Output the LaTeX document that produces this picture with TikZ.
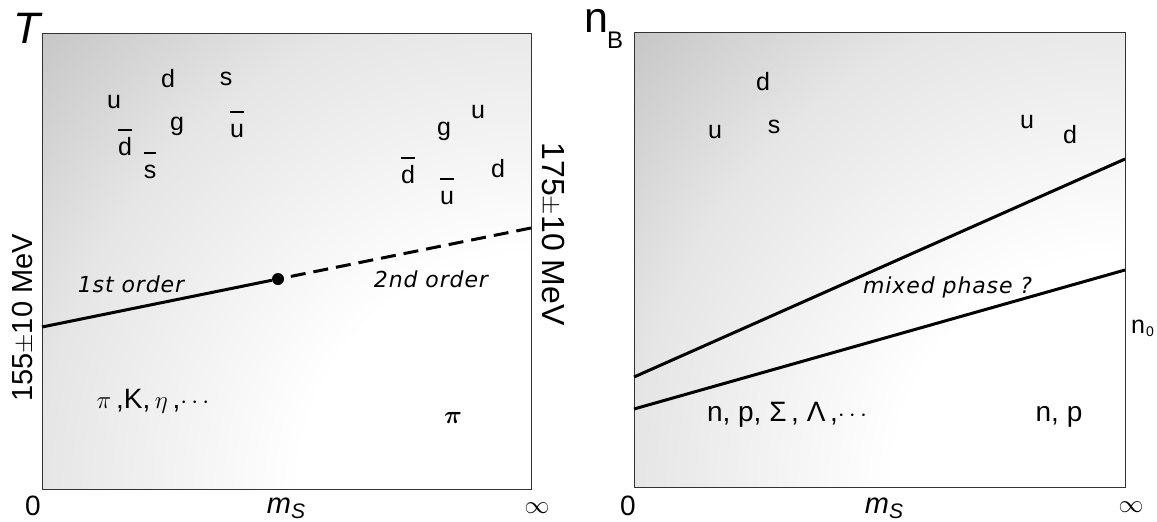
\documentclass[tikz,border=0pt]{standalone}
\usepackage{fontspec}
\usepackage{bm}
\setmainfont{Liberation Sans}
\newfontfamily\lblfont[LetterSpace=4]{DejaVu Sans}
\definecolor{shA}{gray}{0.90}
\definecolor{shB}{gray}{0.77}
\pgfdeclareradialshading{panelshade}{\pgfpoint{0bp}{0bp}}{color(0bp)=(white); color(8.5bp)=(white); color(18bp)=(shA); color(25bp)=(shB); color(50bp)=(shB)}
\newcommand{\qbar}[1]{\setbox0\hbox{#1}\rlap{\raisebox{24pt}{\rule{\wd0}{1.8pt}}}\box0}
\begin{document}
\begin{tikzpicture}[x=1pt,y=-1pt,
  frame/.style={draw=black!80,line width=1pt},
  phase/.style={line width=3pt,black},
  q/.style={font=\fontsize{25}{25}\selectfont,inner sep=0,anchor=base},
  lbl/.style={font=\lblfont\itshape\fontsize{22}{22}\selectfont,inner sep=0,anchor=base},
  had/.style={font=\fontsize{28}{28}\selectfont,inner sep=0,anchor=base},
  ax/.style={font=\fontsize{28}{28}\selectfont,inner sep=0,anchor=base},
  msl/.style={font=\fontsize{29}{29}\selectfont\itshape,inner sep=0,anchor=base},
  temp/.style={inner sep=0,anchor=center},
  dot/.style={circle,fill=black,minimum size=12pt,inner sep=0}]
\useasboundingbox (0,0) rectangle (1157,522);
% ---------- left panel ----------
\begin{scope}
  \clip (42,33) rectangle (531,489);
  \shade[shading=panelshade] (531,489) circle [radius=680pt];
\end{scope}
\draw[frame] (42,33) rectangle (531,489);
\coordinate (L0) at (42,327);
\coordinate (L1) at (531,228);
\node[dot] (cp) at (278,279) {};
\draw[phase] (L0) -- (cp);
\draw[phase,dash pattern=on 15pt off 8pt] (L1) -- (cp);
\node[lbl] (o1) at (131,292) {1st order};
\node[lbl] (o2) at (431,287) {2nd order};
\node[font=\fontsize{44}{44}\selectfont\itshape,inner sep=0,anchor=base] (T) at (27,43) {T};
\node[temp,rotate=90,font=\fontsize{29}{29}\selectfont] (t155) at (23,318) {155$\pm$10 MeV};
\node[temp,rotate=-90,font=\fontsize{32}{32}\selectfont] (t175) at (553,234) {175$\pm$10 MeV};
% quarks left
\node[q] (lu) at (114,108) {u};
\node[q] (ld) at (168,87) {d};
\node[q] (ls) at (226,85) {s};
\node[q] (lg) at (177,130) {g};
\node[q] (ldb) at (125,155) {\qbar{d}};
\node[q] (lsb) at (150,178) {\qbar{s}};
\node[q] (lub) at (237,137) {\qbar{u}};
% quarks right (left panel)
\node[q] (ru) at (478,118) {u};
\node[q] (rg) at (444,135) {g};
\node[q] (rdb) at (408,183) {\qbar{d}};
\node[q] (rd) at (498,177) {d};
\node[q] (rub) at (447,204) {\qbar{u}};
% hadrons
\node[had] (hadL) at (153,408) {$\pi$\,,K,\,$\eta$\,,$\cdots$};
\node[inner sep=0,anchor=base,font=\fontsize{34}{34}\selectfont] (bpi) at (453,423) {$\bm{\pi}$};
% axes
\node[ax] (zL) at (33,515) {0};
\node[inner sep=0,anchor=base,font=\fontsize{32}{32}\selectfont] (infL) at (537,513) {$\infty$};
\node[msl] (msL) at (286,513) {m\raisebox{-5pt}{\fontsize{21}{21}\selectfont S}};
% ---------- right panel ----------
\begin{scope}
  \clip (634,32) rectangle (1125,487);
  \shade[shading=panelshade] (1125,487) circle [radius=680pt];
\end{scope}
\draw[frame] (634,32) rectangle (1125,487);
\coordinate (R0a) at (634,377);
\coordinate (R1a) at (1125,159);
\coordinate (R0b) at (634,409);
\coordinate (R1b) at (1125,270);
\draw[phase] (R0a) -- (R1a);
\draw[phase] (R0b) -- (R1b);
\node[lbl,anchor=base west] (mix) at (863,293) {mixed phase ?};
\node[inner sep=0,anchor=base,font=\fontsize{43}{43}\selectfont] (nBn) at (596,32) {n};
\node[inner sep=0,anchor=base west,font=\fontsize{24}{24}\selectfont] (nBsub) at (607,48) {B};
\node[inner sep=0,anchor=base,font=\fontsize{25}{25}\selectfont] (n0n) at (1138,333) {n};
\node[inner sep=0,anchor=base west,font=\fontsize{14}{14}\selectfont] (n0sub) at (1146,336) {0};
\node[q] (Rd) at (763,90) {d};
\node[q] (Ru) at (715,138) {u};
\node[q] (Rs) at (774,133) {s};
\node[q] (Ru2) at (1027,128) {u};
\node[q] (Rd2) at (1070,143) {d};
\node[had] (hadR) at (787,421) {n, p, Σ\,, Λ\,,$\cdots$};
\node[had] (np) at (1059,421) {n, p};
\node[ax] (zR) at (628,515) {0};
\node[inner sep=0,anchor=base,font=\fontsize{32}{32}\selectfont] (infR) at (1131,512) {$\infty$};
\node[msl] (msR) at (884,513) {m\raisebox{-5pt}{\fontsize{21}{21}\selectfont S}};
\end{tikzpicture}
\end{document}
